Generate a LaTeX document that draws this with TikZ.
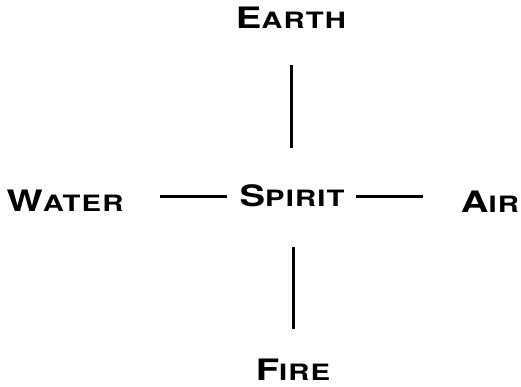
\documentclass[tikz,border=0pt]{standalone}
\usepackage{fontspec}
\newfontfamily\cpfont[FakeStretch=1.3,LetterSpace=5]{TeX Gyre Heros}
\newcommand{\cpcaps}[2]{{\cpfont\bfseries\fontsize{29.5}{29.5}\selectfont #1}{\cpfont\bfseries\fontsize{22.5}{22.5}\selectfont #2}}
\begin{document}
\begin{tikzpicture}[x=1pt,y=1pt,
  lbl/.style={inner sep=0pt, anchor=base, text height=21pt, text depth=0pt},
  conn/.style={line width=3pt}]
\useasboundingbox (0,0) rectangle (521,387);
\node[lbl] (spirit) at (292,180) {\cpcaps{S}{PIRIT}};
\node[lbl] (earth) at (291,358) {\cpcaps{E}{ARTH}};
\node[lbl] (water) at (65,175) {\cpcaps{W}{ATER}};
\node[lbl] (air) at (490,174) {\cpcaps{A}{IR}};
\node[lbl] (fire) at (293,6) {\cpcaps{F}{IRE}};
\draw[conn, shorten <=38pt, shorten >=36pt] (spirit.north -| earth.south) -- (earth.south);
\draw[conn, shorten <=40pt, shorten >=31pt] (spirit.south -| fire.north) -- (fire.north);
\path (spirit.west) ++(-12,0) coordinate (lw1) (water.east |- spirit.west) ++(36,0) coordinate (lw2);
\draw[conn] (lw1) -- (lw2);
\path (spirit.east) ++(11,0) coordinate (rw1) (air.west |- spirit.east) ++(-38,0) coordinate (rw2);
\draw[conn] (rw1) -- (rw2);
\end{tikzpicture}
\end{document}
